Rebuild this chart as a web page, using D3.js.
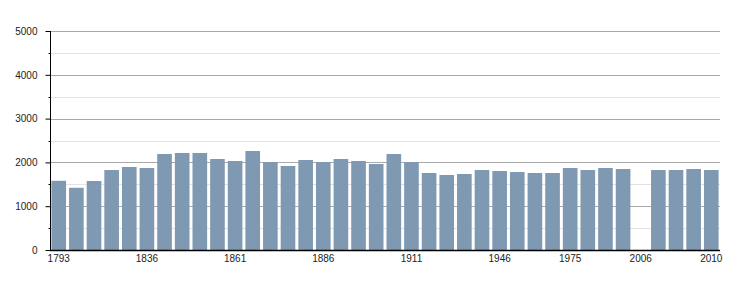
<!DOCTYPE html>
<html>
<head>
<meta charset="utf-8">
<script src="https://cdn.jsdelivr.net/npm/d3@7"></script>
<style>
  body { margin: 0; background: #fff; }
  svg { display: block; }
  text { font-family: "Liberation Sans", Arial, sans-serif; }
</style>
</head>
<body>
<svg id="chart" width="750" height="300"></svg>
<script>
const years = ["1793","1800","1806","1821","1831","1836","1841","1846","1851","1856",
  "1861","1866","1872","1876","1881","1886","1891","1896","1901","1906",
  "1911","1921","1926","1931","1936","1946","1954","1962","1968","1975",
  "1982","1990","1999","2006","2007","2008","2009","2010"];
const population = [1580,1420,1575,1826,1895,1872,2192,2215,2215,2078,
  2032,2260,2009,1918,2055,2009,2078,2032,1963,2192,
  2009,1758,1712,1735,1826,1803,1780,1758,1758,1872,
  1826,1872,1849,null,1826,1826,1849,1826];
const xTickLabels = ["1793","1836","1861","1886","1911","1946","1975","2006","2010"];
const yMajorTicks = [0,1000,2000,3000,4000,5000];
const yMinorTicks = [500,1500,2500,3500,4500];

const svg = d3.select("#chart");
const mLeft = 50, mRight = 720, mTop = 31, mBottom = 250;

const x = d3.scaleBand().domain(years).range([mLeft, mRight])
  .paddingInner(0.17).paddingOuter(0.08);
const y = d3.scaleLinear().domain([0, 5000]).range([mBottom, mTop]);

// minor gridlines
svg.append("g").selectAll("line").data(yMinorTicks).join("line")
  .attr("x1", mLeft).attr("x2", mRight)
  .attr("y1", d => Math.round(y(d)) + 0.5).attr("y2", d => Math.round(y(d)) + 0.5)
  .attr("stroke", "#e2e2e2").attr("stroke-width", 1);
// major gridlines
svg.append("g").selectAll("line").data(yMajorTicks.filter(d => d > 0)).join("line")
  .attr("x1", mLeft).attr("x2", mRight)
  .attr("y1", d => Math.round(y(d)) + 0.5).attr("y2", d => Math.round(y(d)) + 0.5)
  .attr("stroke", "#aaaaaa").attr("stroke-width", 1);

// bars
svg.append("g").selectAll("rect")
  .data(years.map((yr, i) => ({yr, v: population[i]})).filter(d => d.v != null))
  .join("rect")
  .attr("x", d => x(d.yr))
  .attr("width", x.bandwidth())
  .attr("y", d => y(d.v))
  .attr("height", d => y(0) - y(d.v))
  .attr("fill", "#7f99b2");

// y axis
const yAxis = d3.axisLeft(y).tickValues(yMajorTicks).tickSize(5).tickPadding(8)
  .tickFormat(d3.format("d"));
const gy = svg.append("g").attr("transform", `translate(${mLeft + 0.5},0)`).call(yAxis);
gy.select(".domain").attr("stroke", "#000").attr("d", `M0,${mTop}V${mBottom}`);
gy.selectAll(".tick line").attr("stroke", "#000");
gy.selectAll(".tick text").attr("fill", "#222").style("font-size", "10px")
  .style("font-family", "'Liberation Sans', Arial, sans-serif");
// minor ticks
gy.append("g").selectAll("line").data(yMinorTicks).join("line")
  .attr("x1", -2).attr("x2", 0)
  .attr("y1", d => Math.round(y(d)) + 0.5).attr("y2", d => Math.round(y(d)) + 0.5)
  .attr("stroke", "#000");

// x axis
const xAxis = d3.axisBottom(x).tickValues(xTickLabels).tickSize(0).tickPadding(4);
const gx = svg.append("g").attr("transform", `translate(0,${mBottom + 0.5})`).call(xAxis);
gx.select(".domain").attr("stroke", "#000").attr("d", `M${mLeft},0H${mRight}`).attr("stroke-width", 1.5);
gx.selectAll(".tick text").attr("fill", "#222").style("font-size", "10px")
  .style("font-family", "'Liberation Sans', Arial, sans-serif");
</script>
</body>
</html>
